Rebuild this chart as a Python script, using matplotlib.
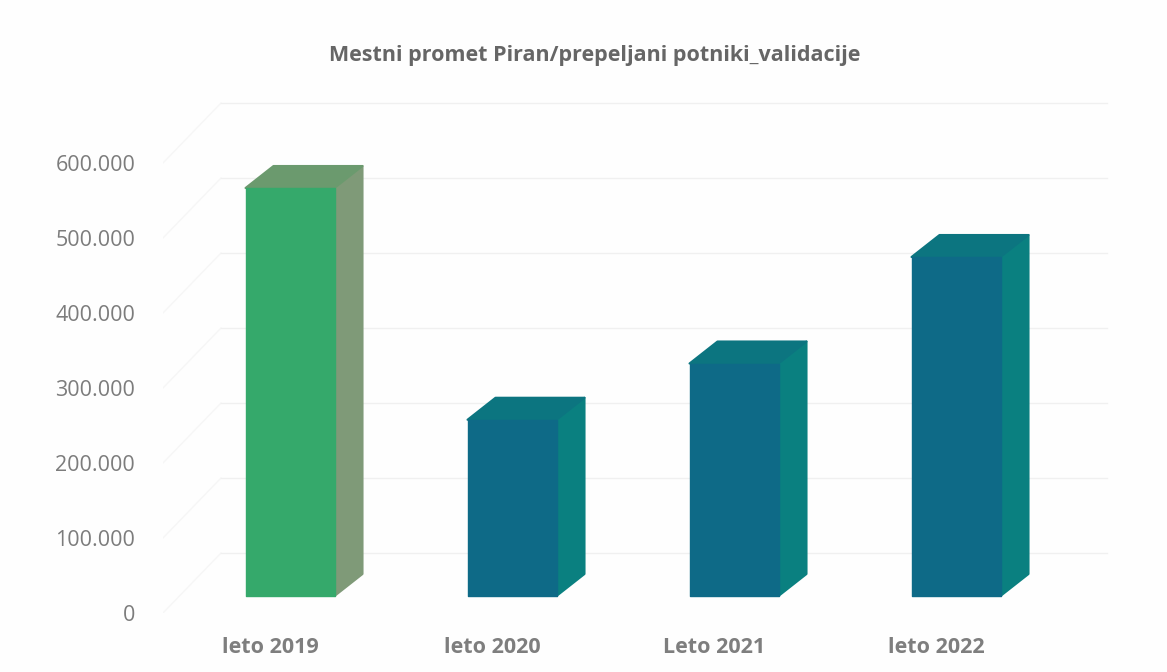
import matplotlib
matplotlib.use("Agg")
import matplotlib.pyplot as plt
from matplotlib.patches import Polygon

categories = ["leto 2019", "leto 2020", "Leto 2021", "leto 2022"]
values = [544000, 235000, 310000, 452000]
y_ticks = [0, 100000, 200000, 300000, 400000, 500000, 600000]
y_labels = ["0", "100.000", "200.000", "300.000", "400.000", "500.000", "600.000"]

W, H = 1167, 672
plt.rcParams["font.family"] = ["Open Sans", "DejaVu Sans"]

# pixel sizes converted to data units below
x_unit = 222.0  # px per category
y_unit = 75.0 / 100000  # px per value
to_x = lambda px: px / x_unit
to_y = lambda px: px / y_unit

left, right, bottom, top = 163, 1115, 613, 88

fig = plt.figure(figsize=(W / 100, H / 100), dpi=100, facecolor="#fefefe")
ax = fig.add_axes([left / W, 1 - bottom / H, (right - left) / W, (bottom - top) / H])
ax.set_xlim((left - 270) / x_unit, (right - 270) / x_unit)
ax.set_ylim(0, (bottom - top) / y_unit)
ax.patch.set_alpha(0)
for s in ax.spines.values():
    s.set_visible(False)

# back wall grid and left wall diagonals
x0, x1 = ax.get_xlim()
wall_dx, wall_dy = to_x(58), to_y(60)
for t in y_ticks:
    ax.plot([x0, x0 + wall_dx], [t, t + wall_dy], color="#f6f6f6", lw=1, zorder=1)
    ax.plot([x0 + wall_dx, x1 - to_x(8)], [t + wall_dy, t + wall_dy], color="#f0f0f0", lw=1, zorder=1)

# the 3d bars
gap = to_y(17)
half = to_x(44.5)
shift = to_x(20)
dx, dy = to_x(28), to_y(22)
colors = [("#35a96b", "#7f9a78", "#6b9a6e")] + [("#0e6a87", "#0a8080", "#0c7580")] * 3

for i, v in enumerate(values):
    front, side, cap = colors[i]
    l, r = i + shift - half, i + shift + half
    b, t = gap, gap + v
    ax.add_patch(Polygon([(r, b), (r + dx, b + dy), (r + dx, t + dy), (r, t)], fc=side, ec=side, lw=1.5, joinstyle="round", zorder=3))
    ax.add_patch(Polygon([(l, t), (l + dx, t + dy), (r + dx, t + dy), (r, t)], fc=cap, ec=cap, lw=1.5, joinstyle="round", zorder=3))
    ax.add_patch(Polygon([(l, b), (r, b), (r, t), (l, t)], fc=front, ec=front, lw=1.0, joinstyle="round", zorder=4))

ax.set_xticks(range(len(categories)))
ax.set_xticklabels(categories, fontsize=15.5, fontweight="bold", color="#7e7e7e")
ax.set_yticks(y_ticks)
ax.set_yticklabels(y_labels, fontsize=15.5, color="#7c7c7c")
ax.tick_params(axis="x", length=0, pad=17)
ax.tick_params(axis="y", length=0, pad=20)

fig.text(595 / W, 1 - 55 / H, "Mestni promet Piran/prepeljani potniki_validacije",
         ha="center", va="center", fontsize=15.5, fontweight="bold", color="#666666")

fig.savefig("out.png", dpi=100, facecolor=fig.get_facecolor())
